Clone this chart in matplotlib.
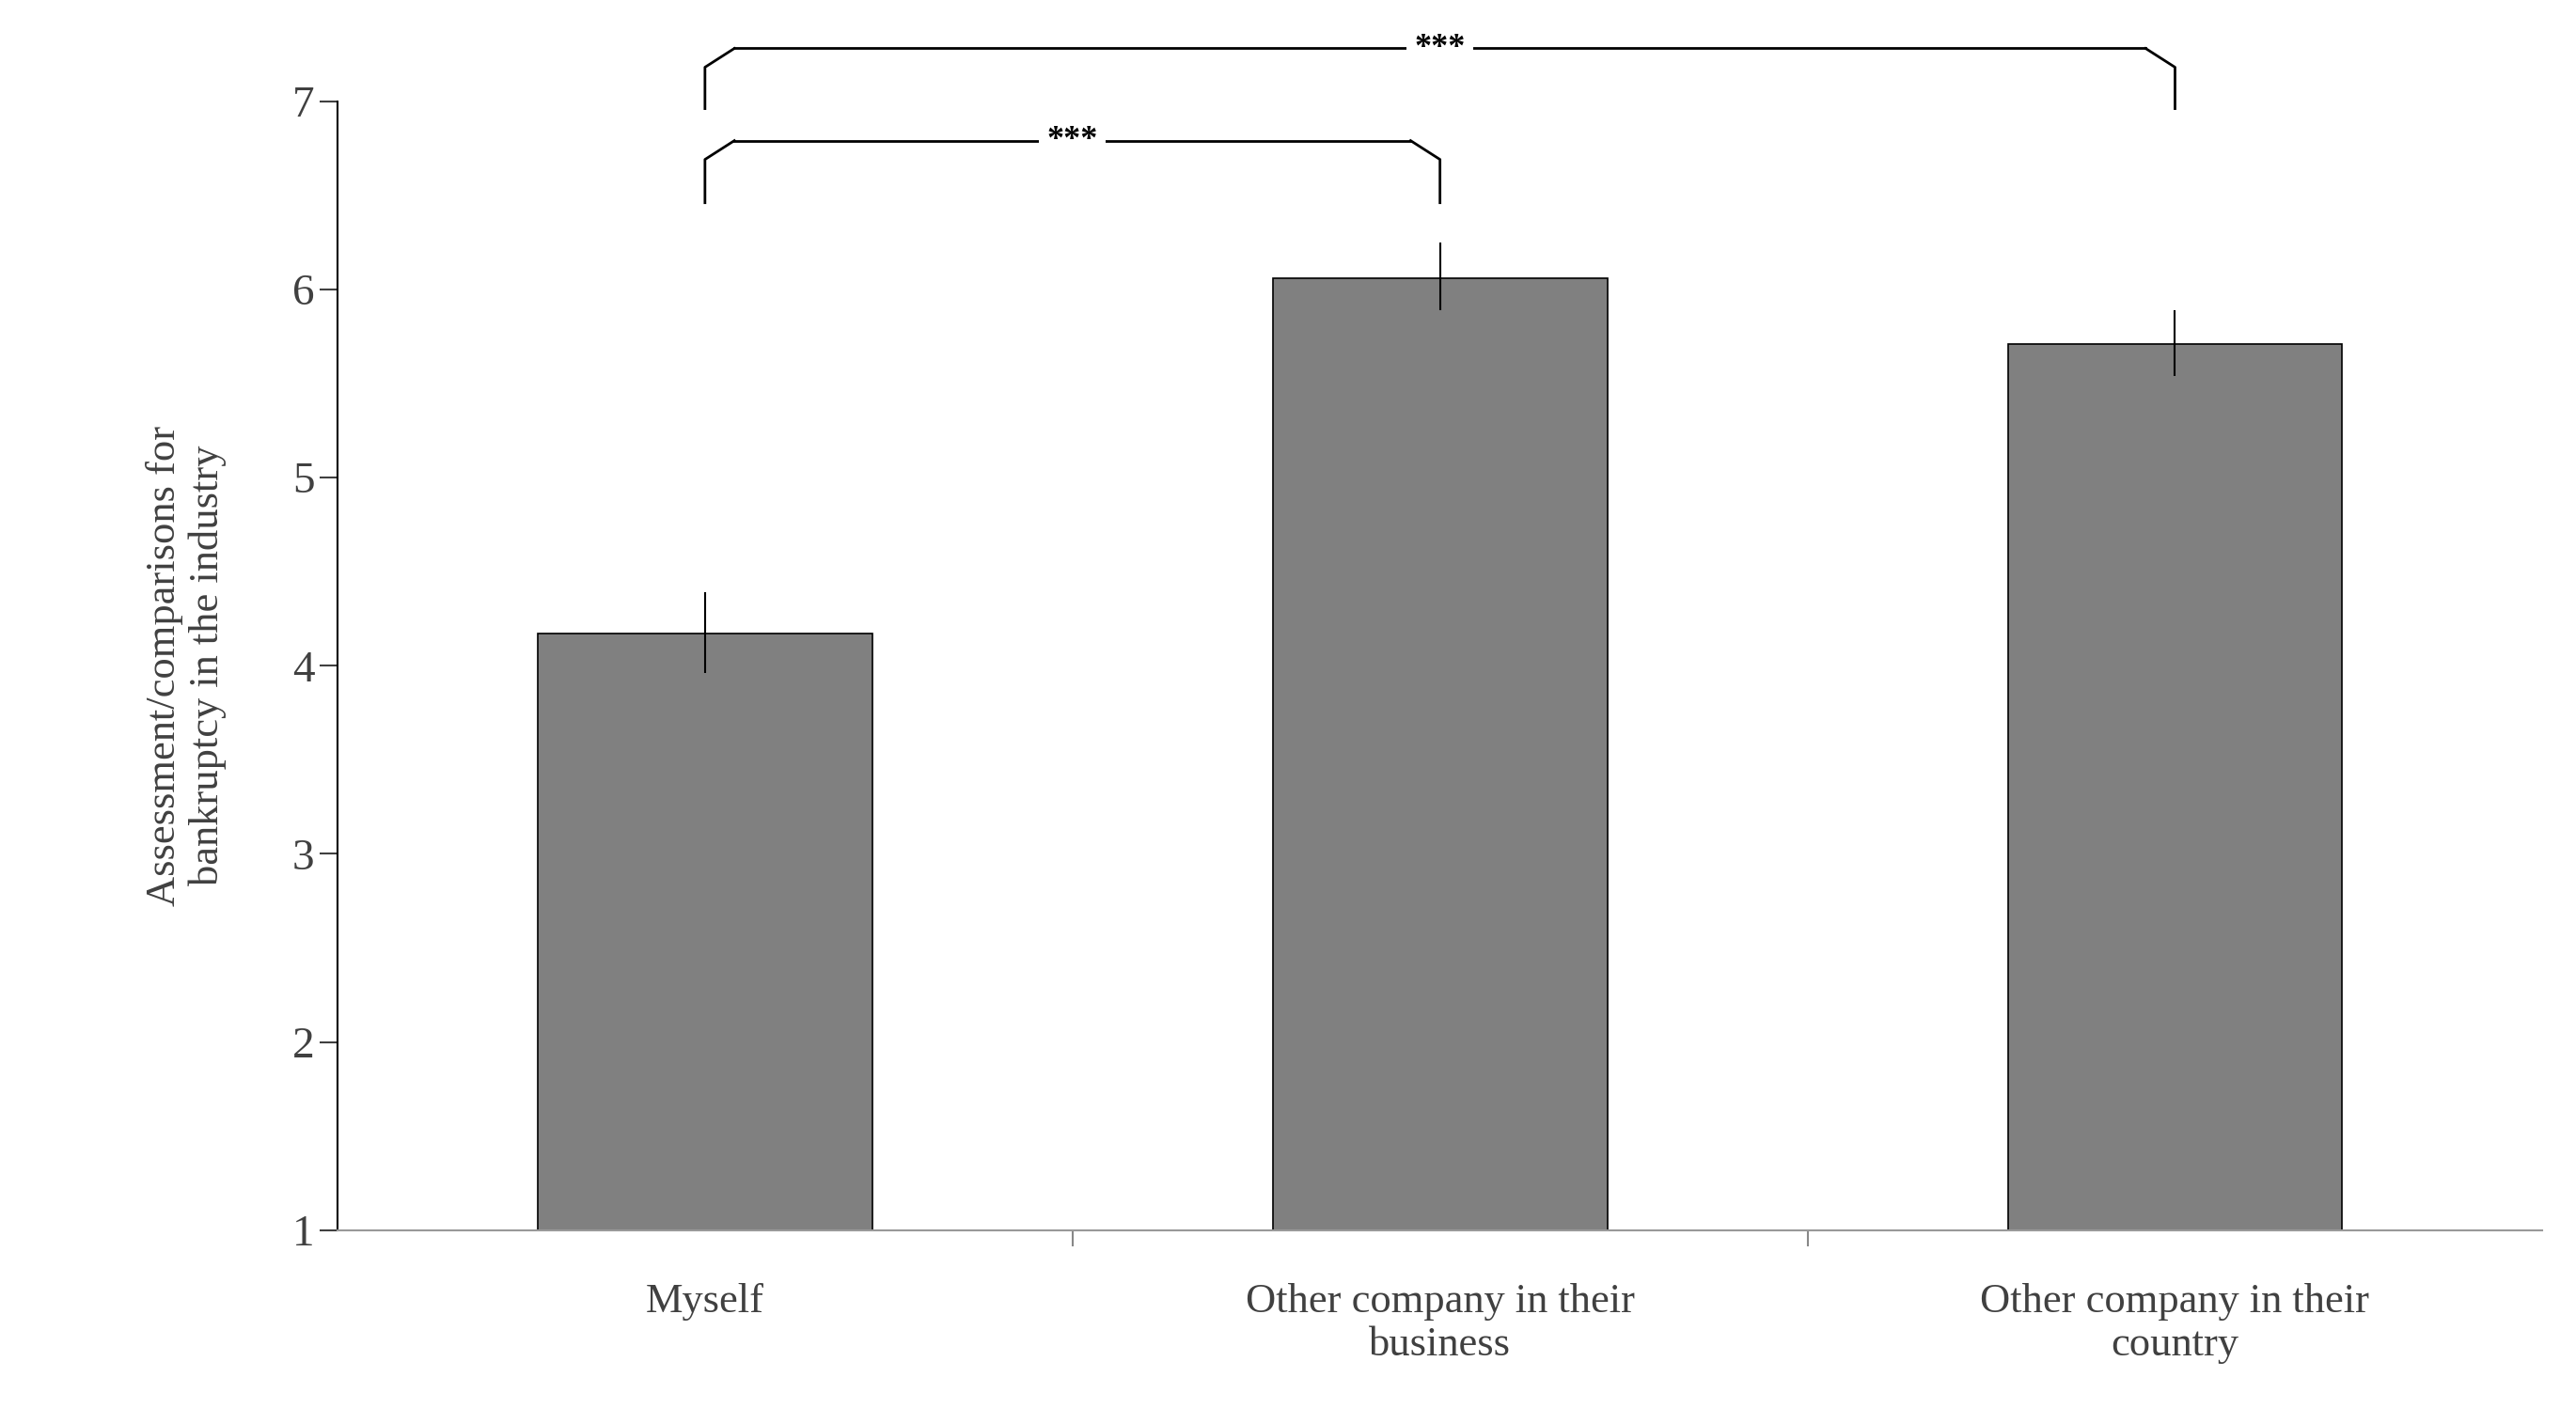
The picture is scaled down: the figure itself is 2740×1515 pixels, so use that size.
#!/usr/bin/env python3
import matplotlib
matplotlib.use("Agg")
import matplotlib.pyplot as plt

# Data
categories = ["Myself", "Other company in their\nbusiness", "Other company in their\ncountry"]
means = [4.17, 6.06, 5.71]
err_low = [0.21, 0.17, 0.17]
err_high = [0.22, 0.19, 0.18]
# significance brackets: (left index, right index, bracket height, leg bottom, label)
brackets = [(0, 1, 6.79, 6.46, "***"), (0, 2, 7.28, 6.96, "***")]


def draw_bracket(ax, x1, x2, top, bottom, label):
    r = 0.04
    ax.plot([x1, x1, x1 + r], [bottom, top - 0.1, top], color="black", lw=2, clip_on=False)
    ax.plot([x2, x2, x2 - r], [bottom, top - 0.1, top], color="black", lw=2, clip_on=False)
    ax.plot([x1 + r, x2 - r], [top, top], color="black", lw=2, clip_on=False)
    ax.text((x1 + x2) / 2, top, label, ha="center", va="center", fontsize=26,
            fontweight="bold", family="Liberation Serif",
            bbox=dict(facecolor="white", edgecolor="none", pad=6), clip_on=False)


def main():
    plt.rcParams["font.family"] = ["Liberation Serif", "DejaVu Serif"]
    fig = plt.figure(figsize=(27.4, 15.15), dpi=100)
    ax = fig.add_axes([0.131, 0.136, 0.856, 0.793])

    x = list(range(len(categories)))
    ax.bar(x, means, width=0.455, bottom=0, color="#808080", edgecolor="black", linewidth=1.2)
    ax.errorbar(x, means, yerr=[err_low, err_high], fmt="none", ecolor="black", elinewidth=1.5)

    ax.set_ylim(1, 7)
    ax.set_xlim(-0.5, 2.5)
    ax.set_yticks(range(1, 8))
    ax.set_xticks(x)
    ax.set_xticklabels(categories, fontsize=32, color="#404040")
    ax.set_xticks([0.5, 1.5], minor=True)
    ax.tick_params(axis="x", which="major", length=0, pad=40)
    ax.tick_params(axis="x", which="minor", length=12, color="#888888", width=1.5)
    ax.tick_params(axis="y", labelsize=34, length=14, width=1.5, colors="#404040")

    for s in ["top", "right"]:
        ax.spines[s].set_visible(False)
    ax.spines["left"].set_linewidth(1.5)
    ax.spines["bottom"].set_color("#999999")
    ax.spines["bottom"].set_linewidth(1.5)

    ax.set_ylabel("Assessment/comparisons for\nbankruptcy in the industry", fontsize=32,
                  color="#404040", labelpad=50)

    for i, j, top, bottom, label in brackets:
        draw_bracket(ax, x[i], x[j], top, bottom, label)

    fig.savefig("out.png", dpi=100)


if __name__ == "__main__":
    main()
